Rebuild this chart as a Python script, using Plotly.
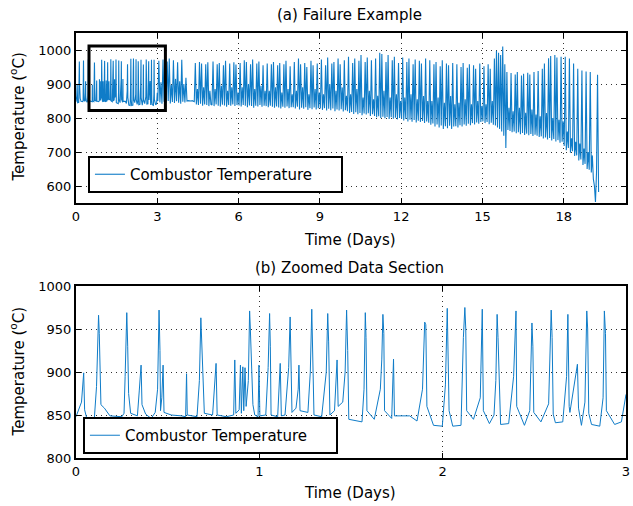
import plotly.graph_objects as go

# ---------------- data ----------------
# (b) zoomed section: vertices (days, deg C)
zoom_t = [0.000, 0.030, 0.042, 0.047, 0.060, 0.100, 0.112, 0.118, 0.123, 0.127, 0.131, 0.136, 0.155, 0.185,
          0.250, 0.262, 0.268, 0.277, 0.282, 0.287, 0.298, 0.335, 0.345, 0.355, 0.360, 0.380, 0.410,
          0.432, 0.445, 0.453, 0.458, 0.461, 0.468, 0.475, 0.480, 0.520, 0.575, 0.598, 0.603, 0.607,
          0.660, 0.673, 0.681, 0.686, 0.692, 0.700, 0.745, 0.764, 0.770, 0.820, 0.860, 0.866, 0.872,
          0.890, 0.897, 0.902, 0.910, 0.915, 0.922, 0.928, 0.940, 0.947, 0.951, 0.958, 0.965, 0.975,
          0.993, 0.998, 1.003, 1.035, 1.048, 1.056, 1.060, 1.064, 1.100, 1.114, 1.120, 1.140, 1.160,
          1.168, 1.173, 1.178, 1.200, 1.212, 1.216, 1.222, 1.265, 1.278, 1.286, 1.292, 1.298, 1.340,
          1.365, 1.373, 1.378, 1.385, 1.410, 1.424, 1.430, 1.455, 1.468, 1.476, 1.482, 1.488, 1.530,
          1.560, 1.571, 1.578, 1.582, 1.587, 1.627, 1.660, 1.668, 1.674, 1.679, 1.683, 1.722, 1.732,
          1.737, 1.820, 1.860, 1.890, 1.902, 1.908, 1.914, 1.950, 1.998, 2.015, 2.025, 2.029, 2.035,
          2.055, 2.100, 2.113, 2.121, 2.126, 2.131, 2.168, 2.205, 2.216, 2.222, 2.255, 2.280, 2.290,
          2.297, 2.302, 2.316, 2.360, 2.387, 2.400, 2.404, 2.446, 2.475, 2.487, 2.492, 2.497, 2.536,
          2.578, 2.592, 2.597, 2.603, 2.615, 2.655, 2.676, 2.683, 2.690, 2.694, 2.735, 2.741, 2.757,
          2.776, 2.786, 2.791, 2.797, 2.812, 2.857, 2.875, 2.882, 2.888, 2.893, 2.938, 2.975, 3.000]
zoom_v = [848, 865, 899, 856, 845, 846, 883, 940, 966, 945, 900, 862, 858, 849,
          848, 852, 895, 969, 930, 875, 852, 849, 878, 908, 862, 851, 846,
          853, 880, 972, 925, 855, 870, 908, 853, 850, 849, 848, 898, 850,
          848, 890, 963, 935, 885, 852, 850, 910, 850, 848, 850, 914, 852,
          856, 908, 852, 906, 855, 905, 860, 890, 971, 950, 905, 862, 850,
          848, 908, 849, 850, 905, 968, 930, 850, 848, 910, 849, 850, 905,
          964, 920, 853, 858, 880, 908, 855, 853, 900, 973, 920, 850, 848,
          900, 968, 935, 850, 855, 914, 860, 865, 900, 972, 925, 845, 843,
          842, 880, 969, 940, 855, 845, 880, 915, 967, 945, 855, 846, 915,
          849, 849, 843, 880, 958, 955, 860, 838, 837, 885, 974, 930, 855,
          837, 838, 940, 975, 950, 855, 845, 870, 973, 855, 840, 850, 890,
          967, 940, 839, 840, 895, 971, 860, 838, 855, 957, 930, 853, 842,
          863, 972, 940, 851, 841, 842, 895, 967, 860, 853, 909, 858, 838,
          865, 971, 950, 852, 839, 837, 870, 971, 945, 855, 839, 842, 874]

# (a) full record after day 3: readings per day, evenly sampled through each day
samples_per_day = 26
later_days = [3, 4, 5, 6, 7, 8, 9, 10, 11, 12, 13, 14, 15, 16, 17, 18, 19]
day03 = [850, 968, 846, 905, 842, 972, 848, 912, 845, 966, 850, 975, 843, 898, 847, 970, 844, 915, 849, 964, 845, 908, 842, 971, 848, 900]
day04 = [846, 918, 850, 851, 850, 849, 850, 851, 850, 848, 962, 840, 885, 838, 965, 842, 960, 836, 890, 840, 958, 838, 964, 835, 880, 840]
day05 = [838, 966, 835, 885, 840, 958, 836, 962, 834, 895, 839, 955, 837, 968, 833, 880, 838, 960, 836, 890, 840, 964, 835, 957, 838, 875]
day06 = [837, 962, 834, 890, 838, 970, 836, 965, 832, 900, 837, 958, 835, 972, 830, 885, 836, 960, 834, 966, 838, 895, 833, 955, 836, 880]
day07 = [835, 960, 832, 880, 836, 958, 833, 965, 830, 890, 834, 955, 831, 962, 828, 875, 833, 958, 830, 968, 834, 885, 829, 952, 832, 870]
day08 = [832, 965, 828, 880, 833, 975, 825, 958, 830, 890, 827, 962, 832, 950, 824, 870, 829, 968, 826, 955, 831, 885, 825, 960, 829, 875]
day09 = [828, 972, 824, 870, 829, 955, 822, 978, 827, 900, 823, 960, 828, 965, 820, 880, 825, 975, 822, 958, 826, 890, 819, 970, 823, 865]
day10 = [820, 980, 815, 870, 818, 962, 812, 975, 817, 885, 811, 968, 815, 985, 808, 860, 813, 965, 810, 978, 814, 880, 806, 970, 811, 855]
day11 = [806, 975, 802, 865, 805, 992, 800, 988, 804, 880, 799, 965, 803, 985, 797, 860, 802, 970, 798, 980, 801, 870, 796, 962, 800, 850]
day12 = [798, 978, 793, 860, 797, 965, 790, 975, 795, 870, 789, 958, 794, 972, 787, 855, 792, 968, 788, 960, 791, 865, 785, 975, 790, 850]
day13 = [786, 970, 780, 850, 784, 958, 775, 965, 781, 860, 772, 952, 778, 970, 768, 845, 776, 960, 770, 955, 777, 865, 768, 962, 775, 840]
day14 = [776, 958, 772, 845, 779, 950, 775, 962, 781, 855, 777, 948, 783, 958, 779, 840, 785, 955, 781, 945, 787, 850, 783, 960, 788, 835]
day15 = [790, 952, 785, 840, 788, 958, 782, 945, 786, 850, 780, 975, 778, 998, 772, 992, 768, 985, 760, 1010, 748, 958, 712, 935, 765, 830]
day16 = [762, 932, 758, 820, 760, 928, 755, 935, 758, 830, 752, 925, 756, 930, 750, 815, 754, 933, 749, 928, 753, 825, 747, 935, 751, 810]
day17 = [748, 938, 744, 805, 746, 945, 740, 960, 743, 815, 737, 976, 741, 982, 734, 800, 738, 985, 731, 978, 735, 795, 727, 980, 730, 790]
day18 = [718, 980, 705, 760, 712, 975, 698, 740, 702, 960, 688, 730, 690, 945, 675, 725, 678, 940, 662, 710, 665, 937, 650, 700, 648, 935]
day19 = [640, 690, 620, 600, 553, 640, 927, 582]
later_blocks = [day03, day04, day05, day06, day07, day08, day09, day10, day11, day12,
                day13, day14, day15, day16, day17, day18, day19]

# highlighted window drawn on panel (a)
box_days = [0.48, 3.3]
box_temps = [822, 1012]

series_name = "Combustor Temperature"
top_xticks = [0, 3, 6, 9, 12, 15, 18]
top_yticks = [600, 700, 800, 900, 1000]
bot_xticks = [0, 1, 2, 3]
bot_yticks = [800, 850, 900, 950, 1000]

# ---------------- build ----------------
top_t = list(zoom_t)
top_v = list(zoom_v)
for d, block in zip(later_days, later_blocks):
    for i, v in enumerate(block):
        top_t.append(d + (i + 0.5) / samples_per_day)
        top_v.append(v)

LINE = "#0f7cc8"
FONT = "DejaVu Sans"

fig = go.Figure()
fig.add_trace(go.Scatter(x=top_t, y=top_v, mode="lines", name=series_name,
                         line=dict(color=LINE, width=1.1), xaxis="x", yaxis="y",
                         legend="legend"))
fig.add_trace(go.Scatter(x=zoom_t, y=zoom_v, mode="lines", name=series_name,
                         line=dict(color=LINE, width=1), xaxis="x2", yaxis="y2",
                         legend="legend2"))

axis_common = dict(showline=True, linecolor="black", linewidth=2, mirror="ticks",
                   ticks="inside", ticklen=5, tickwidth=1, tickcolor="black",
                   showgrid=True, gridcolor="#333333", gridwidth=1, griddash="1px,4px",
                   zeroline=False, tickfont=dict(family=FONT, size=13, color="black"))

legend_common = dict(xanchor="left", yanchor="top", bgcolor="white", orientation="h",
                     entrywidth=206, entrywidthmode="pixels",
                     bordercolor="black", borderwidth=2, font=dict(family=FONT, size=15))

fig.update_layout(
    width=633, height=506, autosize=False,
    margin=dict(l=76, r=3, t=33, b=48, pad=0),
    paper_bgcolor="white", plot_bgcolor="white",
    font=dict(family=FONT, size=15, color="black"),
    xaxis=dict(domain=[0, 1], anchor="y", range=[0, 20.3], tickvals=top_xticks, **axis_common),
    yaxis=dict(domain=[0.6, 1], anchor="x", range=[550, 1050], tickvals=top_yticks, **axis_common),
    xaxis2=dict(domain=[0, 1], anchor="y2", range=[0, 3], tickvals=bot_xticks, **axis_common),
    yaxis2=dict(domain=[0, 0.4047], anchor="x2", range=[800, 1000], tickvals=bot_yticks, **axis_common),
    legend=dict(x=0.0217, y=0.7106, **legend_common),
    legend2=dict(x=0.0126, y=0.0965, **legend_common),
    showlegend=True,
)

fig.add_shape(type="rect", xref="x", yref="y", x0=box_days[0], x1=box_days[1],
              y0=box_temps[0], y1=box_temps[1], line=dict(color="black", width=3),
              fillcolor="rgba(0,0,0,0)")

ann = dict(showarrow=False, font=dict(family=FONT, size=15, color="black"),
           xref="paper", yref="paper")
fig.add_annotation(text="(a) Failure Example", x=0.498, y=1.0424, xanchor="center", yanchor="middle", **ann)
fig.add_annotation(text="(b) Zoomed Data Section", x=0.498, y=0.447, xanchor="center", yanchor="middle", **ann)
fig.add_annotation(text="Time (Days)", x=0.498, y=0.513, xanchor="center", yanchor="middle", **ann)
fig.add_annotation(text="Time (Days)", x=0.498, y=-0.0824, xanchor="center", yanchor="middle", **ann)
fig.add_annotation(text="Temperature (<sup>o</sup>C)", x=-0.1065, y=0.802, textangle=-90,
                   xanchor="center", yanchor="middle", **ann)
fig.add_annotation(text="Temperature (<sup>o</sup>C)", x=-0.1065, y=0.2024, textangle=-90,
                   xanchor="center", yanchor="middle", **ann)

fig.write_html("out.html", include_plotlyjs=True, config={"displayModeBar": False},
               post_script="document.body.style.margin='0px';")
